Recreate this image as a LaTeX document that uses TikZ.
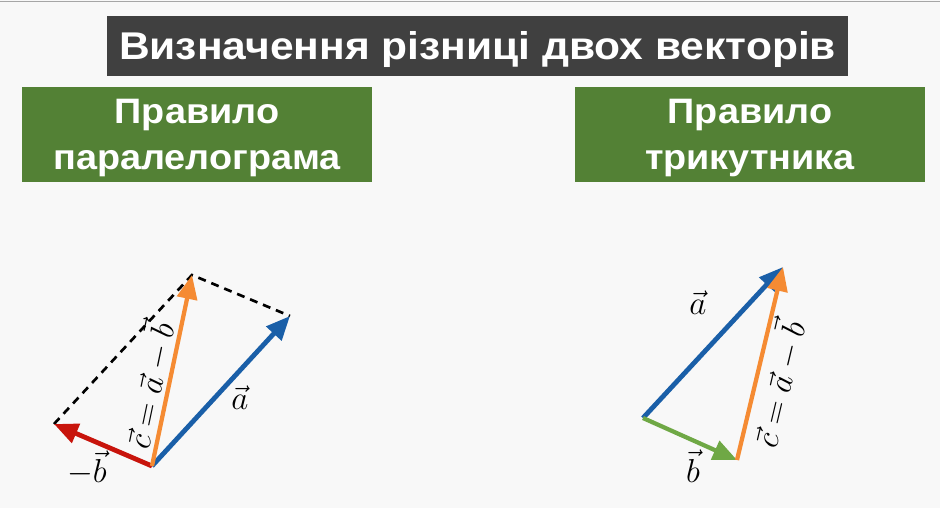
\documentclass[tikz,border=0pt]{standalone}
\usepackage{amssymb,amsmath}
\usepackage{fontspec}
\setmainfont{Liberation Sans}
\newfontfamily\titlefont[FakeStretch=1.10]{Liberation Sans}
\newfontfamily\rulefont[FakeStretch=1.07]{Liberation Sans}
\usepackage{tikz}
\usetikzlibrary{arrows.meta, positioning}
\usepackage{xcolor}
\definecolor{bgcol}{HTML}{F8F8F8}
\definecolor{titlecol}{HTML}{404040}
\definecolor{rulecol}{HTML}{538135}
\definecolor{vblue}{HTML}{1A5FA8}
\definecolor{vorange}{HTML}{F58B33}
\definecolor{vred}{HTML}{C8140C}
\definecolor{vgreen}{HTML}{6FA845}

\begin{document}
\begin{tikzpicture}[
        x=0.75pt, y=-0.75pt,
        titlebox/.style={
          rectangle,
          fill=titlecol,
          text=white,
          minimum width=555.75pt,
          minimum height=45pt,
          inner sep=0pt,
          text depth=0pt,
          font=\titlefont\fontsize{29}{32}\selectfont\bfseries
        },
        rulebox/.style={
          rectangle,
          fill=rulecol,
          text=white,
          minimum width=262.5pt,
          minimum height=71pt,
          inner sep=0pt,
          text depth=0pt,
          align=center,
          font=\rulefont\fontsize{26.5}{34}\selectfont\bfseries
        },
        vecarrow/.style={
          -{Triangle[length=18pt, width=15pt]},
          line width=3.6pt,
          shorten <=0pt
        },
        veclabel/.style={
          font=\fontsize{23.5}{28}\selectfont,
          inner sep=1pt
        }
      ]

      % Background
      \useasboundingbox (0,0) rectangle (940,508);
      \fill[bgcol] (0,0) rectangle (940,508);
      \draw[gray!70, line width=1pt] (0,1.5) -- (940,1.5);

      % Headings
      \node[titlebox] (title) at (477.5,45.5) {Визначення різниці двох векторів};
      \node[rulebox] (para) at (197,134.5) {Правило\\паралелограма};
      \node[rulebox] (tri) at (750,134.5) {Правило\\трикутника};

      % Parallelogram rule
      \coordinate (o1) at (152,466);
      \coordinate (a1) at (290,316);
      \coordinate (nb1) at (54,424);
      \coordinate (c1) at (192,275);

      \draw[line width=2pt, dash pattern=on 6pt off 4.5pt] (nb1) -- (c1) -- (a1);
      \draw[vecarrow, vblue] (o1) -- (a1);
      \draw[vecarrow, vred] (o1) -- (nb1);
      \draw[vecarrow, vorange, line width=3.2pt] (o1) -- (c1)
        node[veclabel, pos=0.4, sloped, above, text=black] (c1lab) {$\vec{c}=\vec{a}-\vec{b}$};

      \node[veclabel] (a1lab) at (240,398) {$\vec{a}$};
      \node[veclabel] (nb1lab) at (87,468) {$-\vec{b}$};

      % Triangle rule
      \coordinate (o2) at (643,418);
      \coordinate (a2) at (783,267);
      \coordinate (b2) at (737,460);

      \draw[vecarrow, vblue] (o2) -- (a2);
      \draw[vecarrow, vgreen, line width=3.2pt] (o2) -- (b2);
      \draw[vecarrow, vorange, line width=3.2pt] (b2) -- (a2)
        node[veclabel, pos=0.42, sloped, below, text=black] (c2lab) {$\vec{c}=\vec{a}-\vec{b}$};

      \node[veclabel] (a2lab) at (698,303) {$\vec{a}$};
      \node[veclabel] (b2lab) at (693,466) {$\vec{b}$};

    \end{tikzpicture}
\end{document}
